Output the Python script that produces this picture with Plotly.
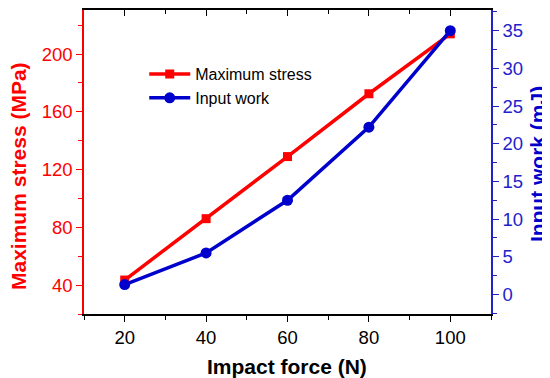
import plotly.graph_objects as go

force = [20, 40, 60, 80, 100]
max_stress = [43.5, 86, 129, 172.5, 214]
input_work = [1.3, 5.5, 12.5, 22.2, 35.0]

RED = "#FF0000"
BLUE = "#0000CC"
BLUE_AX = "#2222CC"
FONT = "Liberation Sans, Arial, sans-serif"

fig = go.Figure()
fig.add_trace(go.Scatter(
    x=force, y=max_stress, name="Maximum stress", mode="lines+markers",
    line=dict(color=RED, width=3.5),
    marker=dict(symbol="square", size=9, color=RED),
    yaxis="y"))
fig.add_trace(go.Scatter(
    x=force, y=input_work, name="Input work", mode="lines+markers",
    line=dict(color=BLUE, width=3.5),
    marker=dict(symbol="circle", size=11, color=BLUE),
    yaxis="y2"))
# invisible trace to anchor the top tick axis
fig.add_trace(go.Scatter(x=[None], y=[None], xaxis="x2", yaxis="y",
                         showlegend=False, hoverinfo="skip"))

# page body has an 8px margin, so the figure is 542x370 placed at (8,8)
fig.update_layout(
    width=542, height=370,
    margin=dict(l=76, r=59, t=2, b=64),
    paper_bgcolor="white", plot_bgcolor="white",
    font=dict(family=FONT, size=18, color="black"),
    showlegend=True,
    legend=dict(x=0.148, y=0.845, xanchor="left", yanchor="top",
                bgcolor="rgba(0,0,0,0)", font=dict(size=16, family=FONT),
                tracegroupgap=0, itemwidth=41),
    xaxis=dict(
        range=[10, 110], tickvals=[20, 40, 60, 80, 100], automargin=False,
        ticks="outside", ticklen=6, tickwidth=1.2, tickcolor="black",
        minor=dict(tickvals=[10, 30, 50, 70, 90, 110], ticks="outside",
                   ticklen=4, tickcolor="black", tickwidth=1.2),
        showline=True, linecolor="black", linewidth=1.5,
        showgrid=False, zeroline=False,
        tickfont=dict(size=18.5, color="black"),
    ),
    xaxis2=dict(
        range=[10, 110], overlaying="x", side="top", anchor="y", automargin=False,
        tickvals=[20, 40, 60, 80, 100], ticks="inside", ticklen=6,
        tickwidth=1.2, tickcolor="black",
        minor=dict(tickvals=[10, 30, 50, 70, 90, 110], ticks="inside",
                   ticklen=4, tickcolor="black", tickwidth=1.2),
        showticklabels=False, showline=True, linecolor="black", linewidth=1.5,
        showgrid=False, zeroline=False,
    ),
    yaxis=dict(
        range=[20, 230.5], tickvals=[40, 80, 120, 160, 200], automargin=False,
        ticks="outside", ticklen=6, tickwidth=1.2, tickcolor=RED,
        minor=dict(tickvals=[20, 60, 100, 140, 180, 220], ticks="outside",
                   ticklen=4, tickcolor=RED, tickwidth=1.2),
        showline=True, linecolor=RED, linewidth=1.5,
        showgrid=False, zeroline=False,
        tickfont=dict(size=18.5, color=RED),
    ),
    yaxis2=dict(
        range=[-2.6, 37.75], tickvals=[0, 5, 10, 15, 20, 25, 30, 35],
        overlaying="y", side="right", anchor="x", automargin=False,
        ticks="outside", ticklen=6, tickwidth=1.2, tickcolor=BLUE_AX,
        minor=dict(tickvals=[-2.5, 2.5, 7.5, 12.5, 17.5, 22.5, 27.5, 32.5, 37.5],
                   ticks="outside", ticklen=4, tickcolor=BLUE_AX, tickwidth=1.2),
        showline=True, linecolor=BLUE_AX, linewidth=1.5,
        showgrid=False, zeroline=False,
        tickfont=dict(size=18.5, color=BLUE_AX),
    ),
    annotations=[
        dict(text="<b>Maximum stress (MPa)</b>", xref="paper", yref="paper",
             x=-0.1597, y=0.454, textangle=-90, showarrow=False,
             xanchor="center", yanchor="middle",
             font=dict(size=21, color=RED, family=FONT)),
        dict(text="<b>Input work (mJ)</b>", xref="paper", yref="paper",
             x=1.113, y=0.493, textangle=-90, showarrow=False,
             xanchor="center", yanchor="middle",
             font=dict(size=21, color=BLUE, family=FONT)),
        dict(text="<b>Impact force (N)</b>", xref="paper", yref="paper",
             x=0.499, y=-0.174, showarrow=False,
             xanchor="center", yanchor="middle",
             font=dict(size=21, color="black", family=FONT)),
    ],
)

fig.write_html("out.html")
